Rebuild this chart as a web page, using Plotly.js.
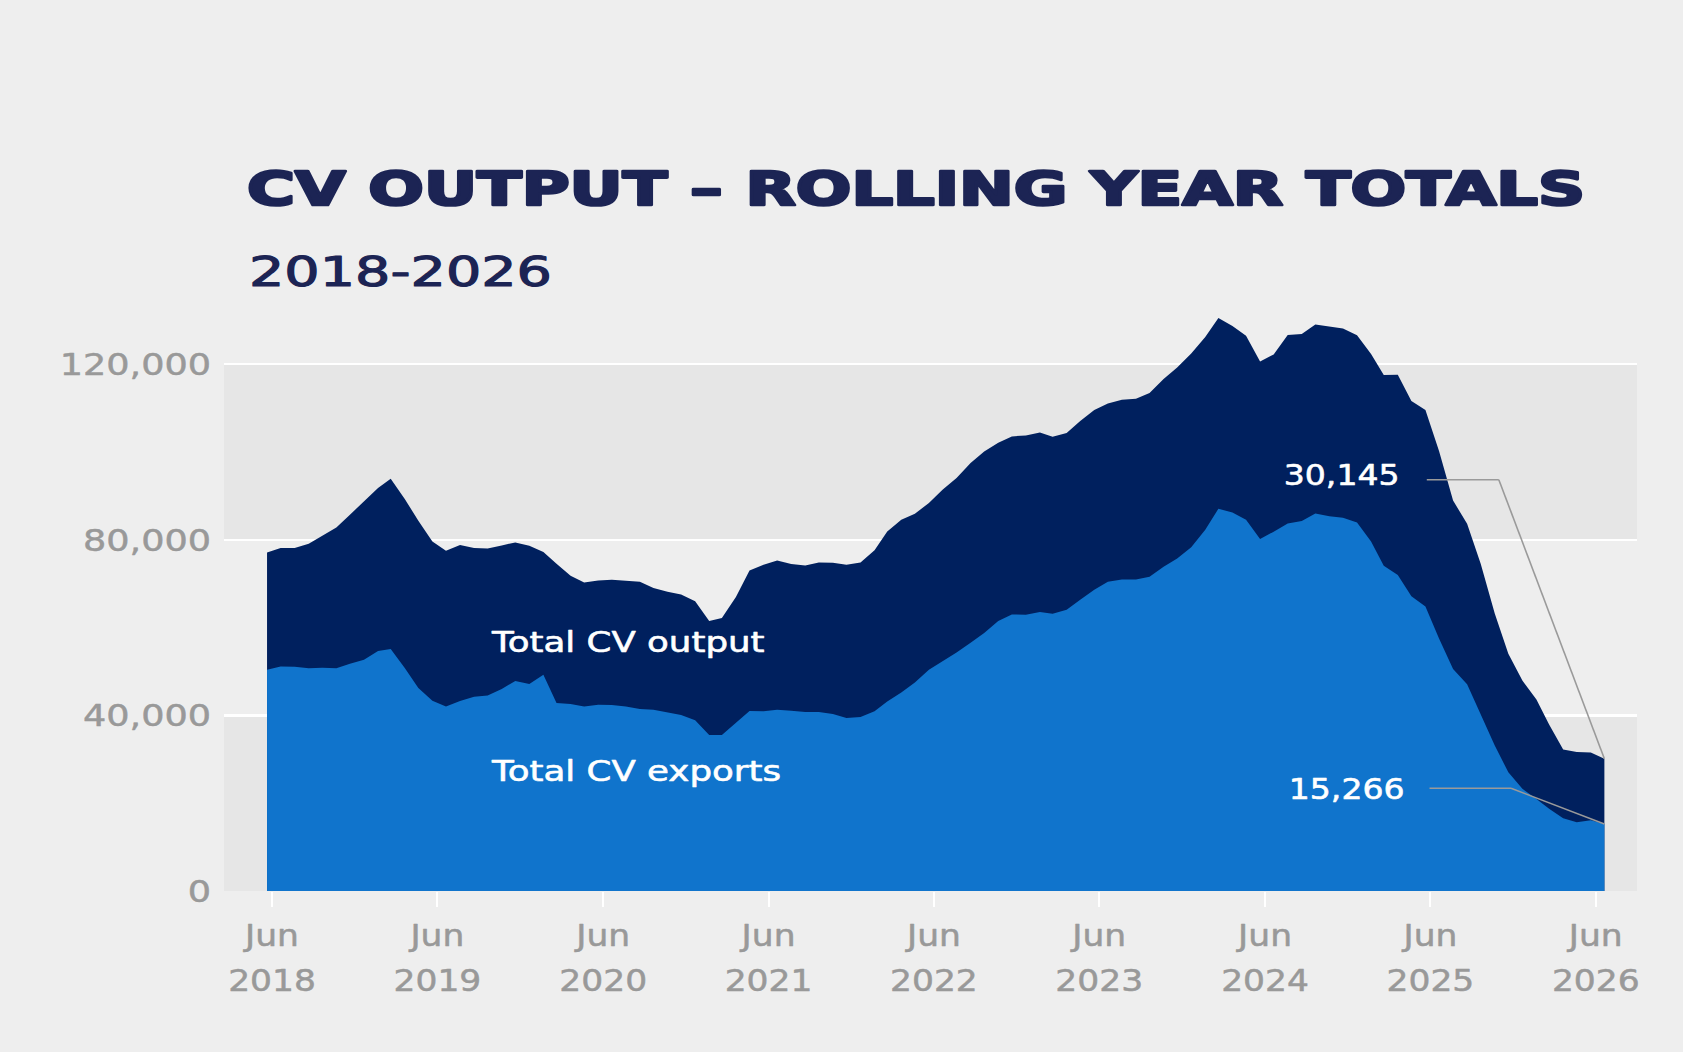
<!DOCTYPE html>
<html>
<head>
<meta charset="utf-8">
<script src="https://cdn.plot.ly/plotly-3.0.1.min.js"></script>
<style>
  html, body { margin: 0; padding: 0; background: #eeeeee; }
  #chart { width: 1683px; height: 1052px; }
</style>
</head>
<body>
<div id="chart"></div>
<script>
// rolling year totals, one value per month, Jun 2018 .. Jul 2026
var firstYear = 2018, firstMonth = 6;

var cvOutput = [
  77130, 78130, 78130, 79110, 80930, 82830, 85720, 88680, 91800, 93920,
  89300, 84350, 79640, 77520, 78820, 78130, 78050, 78730, 79410, 78660,
  77220, 74560, 71830, 70300, 70760, 70910, 70610, 70460, 69020, 68180,
  67570, 65980, 61500, 62170, 67000, 73000, 74330, 75310, 74490, 74170,
  74860, 74790, 74330, 74860, 77600, 81920, 84580, 85950, 88380, 91420,
  94080, 97500, 100140, 102120, 103560, 103790, 104470, 103490, 104330, 107070,
  109570, 111080, 111920, 112150, 113440, 116630, 119280, 122470, 126200, 130530,
  128700, 126500, 120640, 122240, 126650, 126860, 129030, 128600, 128160, 126590,
  122330, 117520, 117610, 111600, 109590, 100250, 88930, 83690, 74560, 63220,
  54060, 47950, 43600, 37930, 32260, 31660, 31570, 30145
];

var cvExports = [
  50410, 51170, 51090, 50720, 50870, 50720, 51780, 52690, 54670, 55130,
  50800, 46240, 43350, 42050, 43280, 44260, 44560, 46020, 47840, 47150,
  49270, 42830, 42600, 42050, 42440, 42370, 42050, 41450, 41300, 40620,
  40090, 38870, 35540, 35540, 38400, 41000, 40920, 41300, 41070, 40770,
  40770, 40320, 39410, 39640, 40920, 43190, 45240, 47520, 50410, 52300,
  54360, 56560, 58770, 61500, 63010, 62940, 63560, 63170, 64080, 66360,
  68640, 70460, 70980, 70980, 71600, 73880, 75770, 78280, 82300, 87090,
  86250, 84580, 80190, 81850, 83740, 84310, 85970, 85360, 85010, 83970,
  79590, 74100, 72010, 67130, 64790, 57540, 50570, 47090, 40120, 33140,
  27040, 23280, 20930, 18750, 16560, 15690, 16130, 15266
];

var tickYears = [2018, 2019, 2020, 2021, 2022, 2023, 2024, 2025, 2026];
var yTicks = [0, 40000, 80000, 120000];

function pad(n) { return (n < 10 ? '0' : '') + n; }

var months = [];
for (var i = 0; i < cvOutput.length; i++) {
  var m = firstMonth - 1 + i;
  months.push((firstYear + Math.floor(m / 12)) + '-' + pad(m % 12 + 1) + '-01');
}

var lastDate = months[months.length - 1];
var lastOutput = cvOutput[cvOutput.length - 1];
var lastExports = cvExports[cvExports.length - 1];

var navy = '#00205e';
var blue = '#1074cc';
var grey = '#999999';
var font = 'DejaVu Sans';

var data = [
  {
    x: months, y: cvOutput, type: 'scatter', mode: 'lines',
    fill: 'tozeroy', fillcolor: navy,
    line: { width: 0, color: navy }, hoverinfo: 'skip'
  },
  {
    x: months, y: cvExports, type: 'scatter', mode: 'lines',
    fill: 'tozeroy', fillcolor: blue,
    line: { width: 0, color: blue }, hoverinfo: 'skip'
  }
];

// widen: horizontal stretch factor (or target width in px), bold: extra stroke
var notes = [
  { text: '2018-2026', xref: 'paper', yref: 'paper', x: 0.0163, y: 1.037,
    xanchor: 'left', yanchor: 'middle', showarrow: false,
    font: { family: font, size: 41, color: '#1c2454' }, width: 303, bold: 1.1 },
  { text: 'Total CV output', x: '2019-10-05', y: 56500,
    xanchor: 'left', yanchor: 'middle', showarrow: false,
    font: { family: font, size: 28.5, color: '#ffffff' }, widen: 1.25, bold: 0.6 },
  { text: 'Total CV exports', x: '2019-10-05', y: 27200,
    xanchor: 'left', yanchor: 'middle', showarrow: false,
    font: { family: font, size: 28.5, color: '#ffffff' }, widen: 1.25, bold: 0.6 },
  { text: lastOutput.toLocaleString('en-US'), x: '2025-04-08', y: 94800,
    xanchor: 'right', yanchor: 'middle', showarrow: false,
    font: { family: font, size: 29, color: '#ffffff' }, widen: 1.14, bold: 0.6 },
  { text: lastExports.toLocaleString('en-US'), x: '2025-04-19', y: 23200,
    xanchor: 'right', yanchor: 'middle', showarrow: false,
    font: { family: font, size: 29, color: '#ffffff' }, widen: 1.14, bold: 0.6 }
];

var leader = { color: '#9a9a9a', width: 1.6 };

var layout = {
  width: 1683,
  height: 1052,
  paper_bgcolor: '#eeeeee',
  plot_bgcolor: '#eeeeee',
  margin: { l: 224, r: 46, t: 294, b: 161 },
  showlegend: false,
  title: {
    text: 'CV OUTPUT – ROLLING YEAR TOTALS',
    xref: 'container', yref: 'container',
    x: 247 / 1683, xanchor: 'left',
    y: 1 - 189 / 1052, yanchor: 'middle',
    font: { family: font, size: 46, color: '#1c2454', weight: 700 }
  },
  xaxis: {
    type: 'date',
    range: ['2018-02-26', '2026-09-11'],
    tickvals: tickYears.map(function (y) { return y + '-06-12'; }),
    ticktext: tickYears.map(function (y) { return 'Jun<br>' + y; }),
    ticks: 'outside', ticklen: 15, tickwidth: 2, tickcolor: '#ffffff',
    ticklabelstandoff: 3,
    showgrid: false, zeroline: false, showline: false,
    tickfont: { family: font, size: 30, color: grey },
    fixedrange: true
  },
  yaxis: {
    range: [0, 136000],
    tickvals: yTicks,
    tickformat: ',d',
    showgrid: true, gridcolor: '#ffffff', gridwidth: 2.5,
    zeroline: false, showline: false, ticks: '',
    ticklabelstandoff: 12,
    tickfont: { family: font, size: 31, color: grey },
    fixedrange: true
  },
  shapes: [
    { type: 'rect', xref: 'paper', yref: 'y', x0: 0, x1: 1, y0: yTicks[2], y1: yTicks[3],
      fillcolor: '#e6e6e6', line: { width: 0 }, layer: 'below' },
    { type: 'rect', xref: 'paper', yref: 'y', x0: 0, x1: 1, y0: yTicks[0], y1: yTicks[1],
      fillcolor: '#e6e6e6', line: { width: 0 }, layer: 'below' },
    { type: 'line', xref: 'x', yref: 'y', x0: '2025-06-04', y0: 93700, x1: '2025-11-10', y1: 93700, line: leader },
    { type: 'line', xref: 'x', yref: 'y', x0: '2025-11-10', y0: 93700, x1: lastDate, y1: lastOutput, line: leader },
    { type: 'line', xref: 'x', yref: 'y', x0: '2025-06-10', y0: 23400, x1: '2025-12-07', y1: 23400, line: leader },
    { type: 'line', xref: 'x', yref: 'y', x0: '2025-12-07', y0: 23400, x1: lastDate, y1: lastExports, line: leader }
  ],
  annotations: notes.map(function (n) {
    var a = Object.assign({}, n);
    delete a.widen; delete a.width; delete a.bold;
    return a;
  })
};

var config = { staticPlot: true, displayModeBar: false };

// the original uses an extended, heavier typeface: stretch glyphs and thicken them
function widen(node, factor) {
  var w = node.getComputedTextLength();
  if (!w) return 0;
  node.setAttribute('textLength', (w * factor).toFixed(1));
  node.setAttribute('lengthAdjust', 'spacingAndGlyphs');
  return w * (factor - 1);
}

function thicken(node, px, color) {
  node.style.stroke = color;
  node.style.strokeWidth = px + 'px';
  node.style.strokeLinejoin = 'round';
}

Plotly.newPlot('chart', data, layout, config).then(function (gd) {
  var t = gd.querySelector('.gtitle');
  if (t) {
    widen(t, 1338 / t.getComputedTextLength());
    thicken(t, 2.6, '#1c2454');
  }

  gd.querySelectorAll('.ytick text').forEach(function (n) {
    widen(n, 1.18);
    thicken(n, 0.5, grey);
  });
  gd.querySelectorAll('.xtick text').forEach(function (n) {
    var lines = n.querySelectorAll('tspan.line');
    if (lines.length) {
      lines.forEach(function (l) { widen(l, 1.15); });
      if (lines[1]) lines[1].setAttribute('dy', '1.5em');
    } else {
      widen(n, 1.15);
    }
    thicken(n, 0.5, grey);
  });

  gd.querySelectorAll('.annotation').forEach(function (g) {
    var idx = +g.getAttribute('data-index');
    var n = notes[idx];
    var txt = g.querySelector('text.annotation-text');
    if (!txt || !n) return;
    var factor = n.width ? n.width / txt.getComputedTextLength() : n.widen;
    var extra = widen(txt, factor);
    var x = parseFloat(txt.getAttribute('x')) || 0;
    if (n.xanchor === 'left') txt.setAttribute('x', x + extra / 2);
    if (n.xanchor === 'right') txt.setAttribute('x', x - extra / 2);
    if (n.bold) thicken(txt, n.bold, n.font.color);
  });
});
</script>
</body>
</html>
